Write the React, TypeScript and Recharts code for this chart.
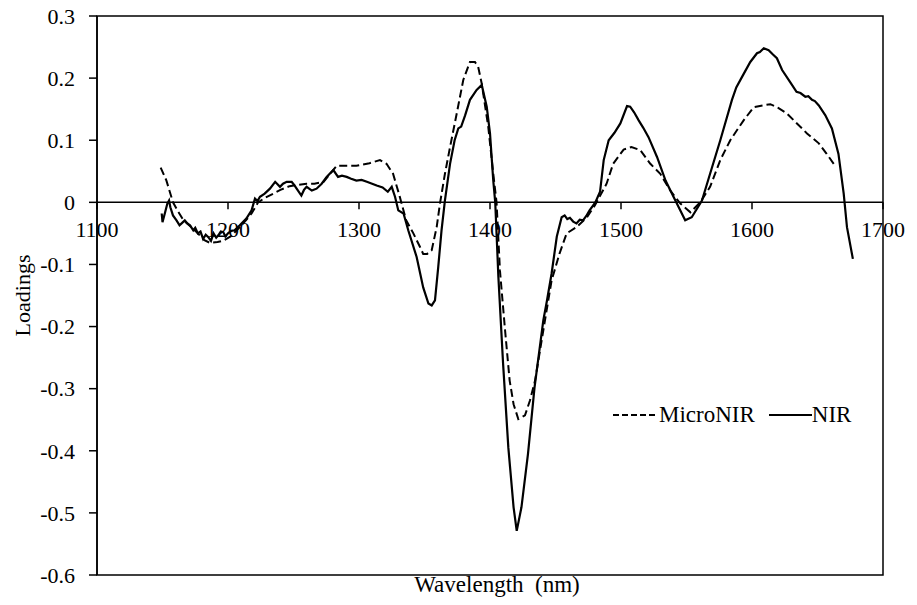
import React from 'react';
import {
  LineChart,
  Line,
  XAxis,
  YAxis,
  ReferenceLine,
  ReferenceArea,
  ReferenceDot,
  Legend,
  Label,
} from 'recharts';

// ---------- data ----------
const microWavelength = [
  1148.6, 1153, 1158, 1162, 1166, 1171, 1176, 1182, 1186, 1192, 1196, 1202, 1209, 1214, 1218, 1223, 1228,
  1234.6, 1240, 1247, 1253, 1260, 1266, 1273, 1278, 1283, 1290, 1298, 1308, 1316, 1321, 1326, 1331, 1336,
  1341.5, 1346.6, 1349, 1352, 1355.5, 1359.3, 1361.8, 1365.6, 1369.5, 1374.6, 1379.6, 1384.7, 1388.5, 1391,
  1393.7, 1398.7, 1402.5, 1405, 1407.6, 1411.5, 1415, 1418, 1421.6, 1426.7, 1430.5, 1434.4, 1440.7, 1447,
  1453, 1458.5, 1466, 1474, 1480, 1489, 1494, 1502, 1508, 1514.7, 1522.4, 1530, 1537.6, 1545.3, 1553,
  1560.5, 1568, 1575.8, 1583.4, 1593.6, 1601.3, 1608, 1614, 1620, 1626.7, 1634.3, 1642, 1651, 1657, 1662.4,
];
const microLoading = [
  0.056, 0.035, 0.0, -0.015, -0.029, -0.038, -0.048, -0.061, -0.065, -0.064, -0.062, -0.055, -0.04, -0.028,
  -0.018, 0.0, 0.007, 0.014, 0.02, 0.026, 0.028, 0.03, 0.03, 0.033, 0.046, 0.059, 0.059, 0.059, 0.063,
  0.068, 0.062, 0.046, 0.01, -0.029, -0.05, -0.072, -0.083, -0.083, -0.077, -0.04, -0.002, 0.046, 0.089,
  0.143, 0.197, 0.226, 0.226, 0.218, 0.191, 0.121, 0.046, 0.0, -0.11, -0.206, -0.287, -0.325, -0.349,
  -0.343, -0.319, -0.287, -0.206, -0.126, -0.083, -0.05, -0.04, -0.024, -0.005, 0.03, 0.062, 0.085, 0.089,
  0.084, 0.062, 0.046, 0.019, -0.002, -0.016, 0.0, 0.025, 0.068, 0.1, 0.132, 0.153, 0.156, 0.158, 0.152,
  0.143, 0.127, 0.111, 0.095, 0.078, 0.062,
];

const nirWavelength = [
  1149.4, 1150, 1152, 1153.7, 1155, 1156, 1158, 1160.7, 1163, 1165, 1167, 1169, 1171, 1173.5, 1175, 1177,
  1179, 1181, 1183, 1185, 1187, 1189, 1191, 1192.6, 1194.5, 1196.4, 1198, 1200, 1202.5, 1205, 1209, 1214,
  1218, 1220.6, 1222.5, 1224.4, 1228, 1232, 1236, 1239.7, 1242, 1244.8, 1248.6, 1250.5, 1252.4, 1256, 1258,
  1260, 1264, 1267.6, 1271.5, 1275.3, 1280.4, 1284, 1287, 1290.6, 1294, 1298, 1302, 1306, 1310, 1313.5,
  1318, 1322, 1325, 1327.5, 1330, 1334, 1337.6, 1344, 1349, 1353, 1355.5, 1358, 1360.5, 1363, 1365.6,
  1369.5, 1373, 1375.8, 1378, 1381, 1384.7, 1389.8, 1393.7, 1397.5, 1400, 1402.5, 1404, 1406.4, 1410, 1414,
  1418, 1420.4, 1424, 1429, 1434, 1440.7, 1443.5, 1447, 1451, 1454.7, 1457, 1459, 1461, 1463.5, 1466,
  1468.5, 1471, 1473.5, 1476, 1480.4, 1484, 1486.8, 1490.6, 1495, 1499.5, 1504.6, 1507, 1510, 1513.5, 1517,
  1521, 1527.5, 1534, 1541.5, 1545.3, 1549, 1554, 1561.8, 1568, 1575.8, 1584.7, 1588, 1592.4, 1598.7,
  1603.8, 1606, 1609, 1612.7, 1616, 1619, 1623, 1629, 1634, 1637, 1640.7, 1643, 1645.8, 1648, 1651, 1656,
  1661, 1666, 1670, 1672.5, 1677,
];
const nirLoading = [
  -0.018, -0.032, -0.016, -0.002, 0.003, -0.008, -0.021, -0.029, -0.037, -0.033, -0.029, -0.034, -0.037,
  -0.045, -0.041, -0.05, -0.047, -0.059, -0.052, -0.056, -0.062, -0.05, -0.057, -0.053, -0.047, -0.048,
  -0.055, -0.05, -0.046, -0.045, -0.037, -0.026, -0.013, 0.006, 0.002, 0.009, 0.014, 0.022, 0.033, 0.025,
  0.03, 0.033, 0.033, 0.028, 0.022, 0.011, 0.02, 0.025, 0.019, 0.022, 0.03, 0.041, 0.052, 0.041, 0.043,
  0.041, 0.038, 0.035, 0.036, 0.033, 0.03, 0.027, 0.024, 0.017, 0.025, 0.009, -0.013, -0.018, -0.045,
  -0.088, -0.137, -0.163, -0.166, -0.158, -0.104, -0.045, 0.003, 0.062, 0.1, 0.119, 0.122, 0.14, 0.165,
  0.181, 0.189, 0.154, 0.111, 0.035, 0.0, -0.12, -0.26, -0.395, -0.491, -0.529, -0.491, -0.405, -0.298,
  -0.19, -0.158, -0.115, -0.055, -0.024, -0.021, -0.027, -0.025, -0.031, -0.034, -0.028, -0.029, -0.022,
  -0.013, 0.0, 0.017, 0.068, 0.1, 0.112, 0.127, 0.155, 0.154, 0.145, 0.132, 0.12, 0.105, 0.073, 0.035,
  0.003, -0.013, -0.029, -0.024, 0.003, 0.046, 0.1, 0.165, 0.185, 0.202, 0.226, 0.24, 0.242, 0.248, 0.245,
  0.238, 0.232, 0.213, 0.194, 0.178, 0.176, 0.17, 0.171, 0.165, 0.163, 0.156, 0.14, 0.119, 0.078, 0.014,
  -0.04, -0.091,
];

const xTicks = [1100, 1200, 1300, 1400, 1500, 1600, 1700];
const yTicks = [-0.6, -0.5, -0.4, -0.3, -0.2, -0.1, 0, 0.1, 0.2, 0.3];
const seriesNames = ['MicroNIR', 'NIR'];
const xTitle = 'Wavelength\u00A0 (nm)';
const yTitle = 'Loadings';

const microData = microWavelength.map((w, i) => ({ w, v: microLoading[i] }));
const nirData = nirWavelength.map((w, i) => ({ w, v: nirLoading[i] }));

const FONT = '"Liberation Serif", "Times New Roman", serif';

const makeXTick = (label: string) => (props: any) => {
  const { cx, cy } = props;
  return (
    <g>
      <line x1={cx} y1={cy} x2={cx} y2={cy + 7} stroke="#000" strokeWidth={1.5} />
      <text x={cx} y={cy + 35} textAnchor="middle" fontFamily={FONT} fontSize={22} fill="#000">
        {label}
      </text>
    </g>
  );
};

const renderLegend = () => (
  <div
    style={{
      display: 'flex',
      alignItems: 'center',
      fontFamily: FONT,
      fontSize: 23,
      color: '#000',
      lineHeight: '26px',
      whiteSpace: 'nowrap',
    }}
  >
    <svg width={44} height={10} style={{ display: 'block' }}>
      <line x1={0} y1={5} x2={44} y2={5} stroke="#000" strokeWidth={2} strokeDasharray="6 3" />
    </svg>
    <span style={{ marginLeft: 2 }}>{seriesNames[0]}</span>
    <svg width={43} height={10} style={{ display: 'block', marginLeft: 14 }}>
      <line x1={0} y1={5} x2={43} y2={5} stroke="#000" strokeWidth={2.2} />
    </svg>
    <span>{seriesNames[1]}</span>
  </div>
);

export default function App() {
  return (
    <div style={{ margin: -8, width: 917, height: 605 }}>
      <LineChart width={917} height={605} margin={{ top: 16, right: 34, bottom: 0, left: 0 }}>
        <XAxis
          type="number"
          dataKey="w"
          domain={[1100, 1700]}
          ticks={xTicks}
          allowDataOverflow
          tick={false}
          tickLine={false}
          axisLine={false}
          height={30}
        >
          <Label
            value={xTitle}
            position="insideBottom"
            offset={13}
            dx={7}
            style={{ fontFamily: FONT, fontSize: 23, fill: '#000' }}
          />
        </XAxis>
        <YAxis
          type="number"
          domain={[-0.6, 0.3]}
          ticks={yTicks}
          interval={0}
          width={97}
          tickSize={8}
          tickMargin={14}
          axisLine={{ stroke: '#000', strokeWidth: 1.5 }}
          tickLine={{ stroke: '#000', strokeWidth: 1.5 }}
          tick={{ fill: '#000', fontFamily: FONT, fontSize: 22 }}
          tickFormatter={(v: number) => (Math.abs(v) < 1e-9 ? '0' : v.toFixed(1))}
        >
          <Label
            value={yTitle}
            angle={-90}
            position="insideLeft"
            offset={22}
            style={{ textAnchor: 'middle', fontFamily: FONT, fontSize: 22, fill: '#000' }}
          />
        </YAxis>
        <ReferenceArea
          x1={1100}
          x2={1700}
          y1={-0.6}
          y2={0.3}
          fill="none"
          fillOpacity={0}
          stroke="#000"
          strokeWidth={1.5}
        />
        <ReferenceLine y={0} stroke="#000" strokeWidth={1.5} />
        {xTicks.map((t) => (
          <ReferenceDot key={t} x={t} y={0} r={0} ifOverflow="visible" shape={makeXTick(String(t))} />
        ))}
        <Line
          data={microData}
          dataKey="v"
          name={seriesNames[0]}
          type="linear"
          stroke="#000"
          strokeWidth={2}
          strokeDasharray="8 4"
          dot={false}
          isAnimationActive={false}
        />
        <Line
          data={nirData}
          dataKey="v"
          name={seriesNames[1]}
          type="linear"
          stroke="#000"
          strokeWidth={2.2}
          dot={false}
          isAnimationActive={false}
        />
        <Legend
          layout="horizontal"
          verticalAlign="middle"
          align="center"
          content={renderLegend}
          wrapperStyle={{ left: 613, top: 402, width: 'auto', height: 'auto' }}
        />
      </LineChart>
    </div>
  );
}
